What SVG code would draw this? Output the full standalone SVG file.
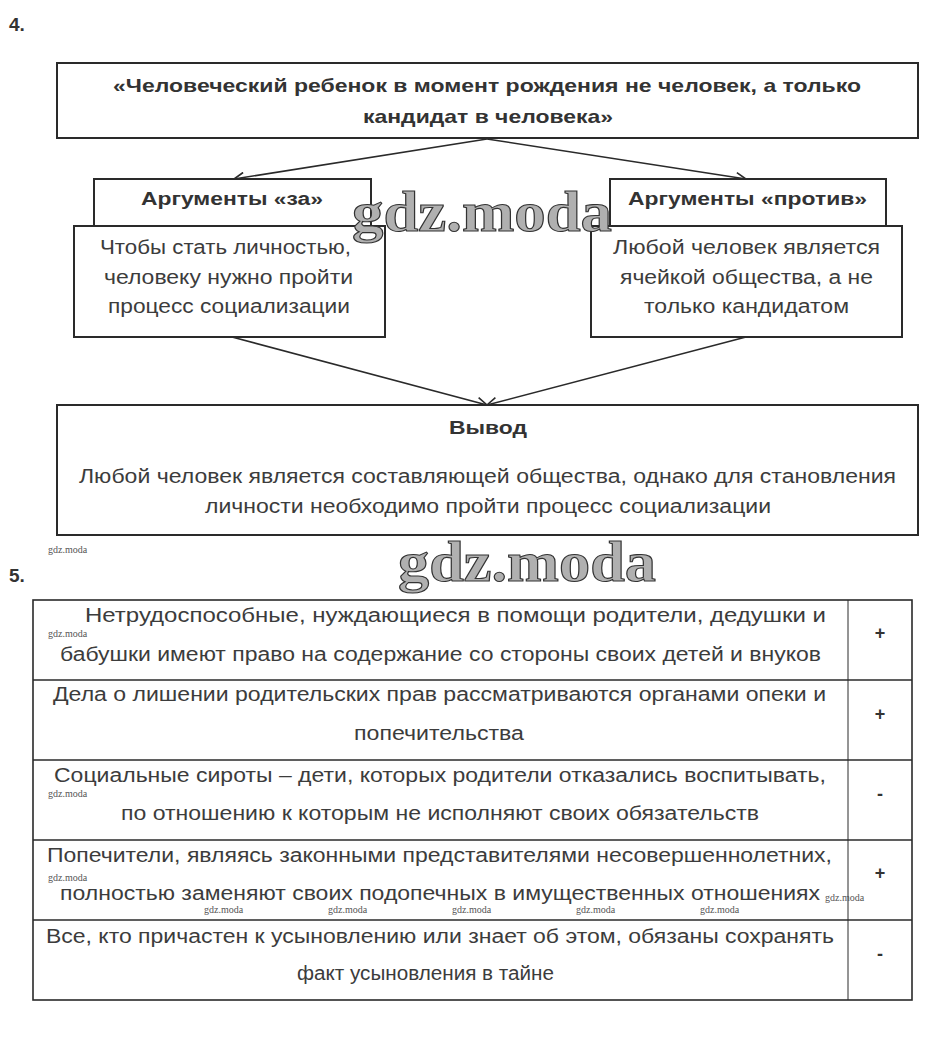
<svg xmlns="http://www.w3.org/2000/svg" width="925" height="1042" viewBox="0 0 925 1042">
<defs>
<style>
.box{fill:#fff;stroke:#2a2a2a;stroke-width:2}
.b{font-family:"Liberation Sans",Arial,sans-serif;font-weight:bold;fill:#333}
.t{font-family:"Liberation Sans",Arial,sans-serif;fill:#3c3c3c;font-size:20px}
.c{stroke:#2a2a2a;stroke-width:1.6;fill:none}
.wm{font-family:"Liberation Serif","Times New Roman",serif;font-weight:bold;font-size:56px;fill:#b0b0b0;stroke:#333;stroke-width:1.1}
.sw{font-family:"Liberation Serif","Times New Roman",serif;font-size:10px;fill:#555}
.grid{stroke:#2a2a2a;stroke-width:1.6;fill:none}
.thin{stroke:#2a2a2a;stroke-width:1;fill:none}
</style>
<marker id="ah" viewBox="0 0 12 12" refX="11" refY="6" markerWidth="12" markerHeight="12" markerUnits="userSpaceOnUse" orient="auto">
<path d="M1,1 L11,6 L1,11" fill="none" stroke="#2a2a2a" stroke-width="1.6"/>
</marker>
</defs>
<rect width="925" height="1042" fill="#fff"/>
<text class="b" x="9" y="31" font-size="19">4.</text>

<g id="connectors">
<line class="c" x1="487" y1="139" x2="234" y2="179" marker-end="url(#ah)"/>
<line class="c" x1="487" y1="139" x2="746" y2="179" marker-end="url(#ah)"/>
<line class="c" x1="232" y1="337" x2="487" y2="405" marker-end="url(#ah)"/>
<line class="c" x1="746" y1="337" x2="487" y2="405" marker-end="url(#ah)"/>
</g>

<g id="quote">
<rect class="box" x="57" y="63" width="861" height="75"/>
<text class="b" x="113" y="92" font-size="19" textLength="748" lengthAdjust="spacingAndGlyphs">«Человеческий ребенок в момент рождения не человек, а только</text>
<text class="b" x="363" y="123" font-size="19" textLength="250" lengthAdjust="spacingAndGlyphs">кандидат в человека»</text>
</g>

<g id="for-header">
<rect class="box" x="94" y="179" width="277" height="47"/>
<text class="b" x="141" y="205" font-size="18" textLength="182" lengthAdjust="spacingAndGlyphs">Аргументы «за»</text>
</g>
<g id="for-body">
<rect class="box" x="74" y="226" width="311" height="111"/>
<text class="t" x="100" y="254" textLength="251" lengthAdjust="spacingAndGlyphs">Чтобы стать личностью,</text>
<text class="t" x="104" y="284" textLength="249" lengthAdjust="spacingAndGlyphs">человеку нужно пройти</text>
<text class="t" x="108" y="313" textLength="242" lengthAdjust="spacingAndGlyphs">процесс социализации</text>
</g>

<g id="against-header">
<rect class="box" x="610" y="179" width="276" height="47"/>
<text class="b" x="628" y="205" font-size="18" textLength="239" lengthAdjust="spacingAndGlyphs">Аргументы «против»</text>
</g>
<g id="against-body">
<rect class="box" x="591" y="226" width="311" height="111"/>
<text class="t" x="613" y="254" textLength="267" lengthAdjust="spacingAndGlyphs">Любой человек является</text>
<text class="t" x="620" y="284" textLength="253" lengthAdjust="spacingAndGlyphs">ячейкой общества, а не</text>
<text class="t" x="644" y="313" textLength="205" lengthAdjust="spacingAndGlyphs">только кандидатом</text>
</g>

<g id="wm1"><text class="wm" x="352" y="231" textLength="260" lengthAdjust="spacingAndGlyphs">gdz.moda</text></g>

<g id="conclusion">
<rect class="box" x="57" y="405" width="861" height="130"/>
<text class="b" x="449" y="434" font-size="19" textLength="78" lengthAdjust="spacingAndGlyphs">Вывод</text>
<text class="t" x="79" y="483" textLength="817" lengthAdjust="spacingAndGlyphs">Любой человек является составляющей общества, однако для становления</text>
<text class="t" x="205" y="513" textLength="566" lengthAdjust="spacingAndGlyphs">личности необходимо пройти процесс социализации</text>
</g>

<text class="sw" x="48" y="553">gdz.moda</text>
<text class="b" x="9" y="582" font-size="19">5.</text>
<g id="wm2"><text class="wm" x="398" y="581" textLength="258" lengthAdjust="spacingAndGlyphs">gdz.moda</text></g>

<g id="table">
<rect class="grid" x="33" y="600" width="879" height="400"/>
<line class="grid" x1="33" y1="680" x2="912" y2="680"/>
<line class="grid" x1="33" y1="760" x2="912" y2="760"/>
<line class="grid" x1="33" y1="840" x2="912" y2="840"/>
<line class="grid" x1="33" y1="920" x2="912" y2="920"/>
<line class="thin" x1="848" y1="600" x2="848" y2="1000"/>

<g id="row1">
<text class="t" x="85" y="622" textLength="741" lengthAdjust="spacingAndGlyphs">Нетрудоспособные, нуждающиеся в помощи родители, дедушки и</text>
<text class="t" x="60" y="661" textLength="761" lengthAdjust="spacingAndGlyphs">бабушки имеют право на содержание со стороны своих детей и внуков</text>
<text class="b" x="880" y="639" font-size="18" text-anchor="middle">+</text>
</g>
<g id="row2">
<text class="t" x="53" y="701" textLength="773" lengthAdjust="spacingAndGlyphs">Дела о лишении родительских прав рассматриваются органами опеки и</text>
<text class="t" x="354" y="740" textLength="170" lengthAdjust="spacingAndGlyphs">попечительства</text>
<text class="b" x="880" y="720" font-size="18" text-anchor="middle">+</text>
</g>
<g id="row3">
<text class="t" x="54" y="782" textLength="772" lengthAdjust="spacingAndGlyphs">Социальные сироты – дети, которых родители отказались воспитывать,</text>
<text class="t" x="121" y="820" textLength="638" lengthAdjust="spacingAndGlyphs">по отношению к которым не исполняют своих обязательств</text>
<text class="b" x="880" y="800" font-size="18" text-anchor="middle">-</text>
</g>
<g id="row4">
<text class="t" x="47" y="862" textLength="785" lengthAdjust="spacingAndGlyphs">Попечители, являясь законными представителями несовершеннолетних,</text>
<text class="t" x="60" y="900" textLength="760" lengthAdjust="spacingAndGlyphs">полностью заменяют своих подопечных в имущественных отношениях</text>
<text class="b" x="880" y="879" font-size="18" text-anchor="middle">+</text>
</g>
<g id="row5">
<text class="t" x="46" y="943" textLength="788" lengthAdjust="spacingAndGlyphs">Все, кто причастен к усыновлению или знает об этом, обязаны сохранять</text>
<text class="t" x="297" y="980" textLength="257" lengthAdjust="spacingAndGlyphs">факт усыновления в тайне</text>
<text class="b" x="880" y="960" font-size="18" text-anchor="middle">-</text>
</g>
</g>

<g id="small-watermarks">
<text class="sw" x="48" y="637">gdz.moda</text>
<text class="sw" x="48" y="797">gdz.moda</text>
<text class="sw" x="48" y="881">gdz.moda</text>
<text class="sw" x="204" y="913">gdz.moda</text>
<text class="sw" x="328" y="913">gdz.moda</text>
<text class="sw" x="452" y="913">gdz.moda</text>
<text class="sw" x="576" y="913">gdz.moda</text>
<text class="sw" x="700" y="913">gdz.moda</text>
<text class="sw" x="825" y="901">gdz.moda</text>
</g>
</svg>
